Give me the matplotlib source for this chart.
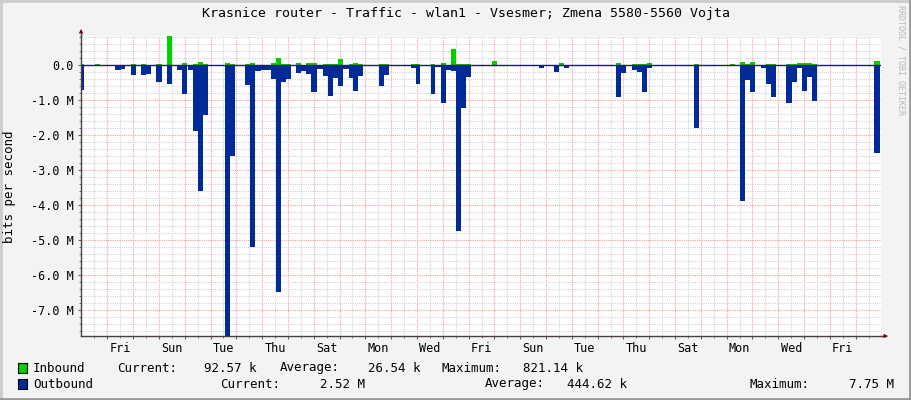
import numpy as np
import matplotlib
matplotlib.use("Agg")
import matplotlib.pyplot as plt
from matplotlib.ticker import FixedLocator, FixedFormatter, MultipleLocator, FuncFormatter
from matplotlib.patches import Rectangle
from matplotlib.lines import Line2D

plt.rcParams['font.family'] = ['DejaVu Sans Mono']

# time in days from graph start, values in Mbit/s (step: value holds until next time)
out_t = [0.000, 0.116, 1.329, 1.539, 1.717, 1.950, 2.143, 2.337, 2.531, 2.725,
         2.919, 3.140, 3.345, 3.539, 3.733, 3.926, 4.109, 4.147, 4.341, 4.535,
         4.729, 4.922, 5.570, 5.764, 5.957, 6.345, 6.539, 6.733, 6.965, 7.353,
         7.547, 7.740, 7.934, 8.128, 8.345, 8.539, 8.733, 8.926, 9.147, 9.380,
         9.574, 9.767, 9.961, 10.155, 10.388, 10.554, 10.748, 10.942, 11.562, 11.756,
         11.950, 12.558, 12.779, 12.973, 13.151, 13.554, 13.733, 13.942, 14.136, 14.341,
         14.535, 14.729, 14.922, 15.116, 17.764, 17.957, 18.345, 18.539, 18.733, 18.926,
         19.756, 19.922, 20.736, 20.942, 21.124, 21.357, 21.550, 21.744, 21.938, 22.132,
         22.353, 23.554, 23.771, 23.965, 25.554, 25.748, 25.942, 26.136, 26.357, 26.550,
         26.756, 26.950, 27.326, 27.558, 27.752, 27.946, 28.140, 28.333, 28.527, 30.748,
         30.942, 31.0]
out_v = [0.71, 0, 0.16, 0.11, 0, 0.28, 0, 0.30, 0.27, 0,
         0.48, 0, 0.54, 0, 0.14, 0.84, 0, 0.14, 1.88, 3.60,
         1.45, 0, 7.75, 2.60, 0, 0.57, 5.20, 0.19, 0.16, 0.40,
         6.50, 0.50, 0.40, 0, 0.24, 0.17, 0.27, 0.79, 0.12, 0.33,
         0.88, 0.38, 0.60, 0.13, 0.39, 0.76, 0.33, 0, 0.62, 0.28,
         0, 0.05, 0.08, 0.56, 0, 0.85, 0.07, 1.08, 0.16, 0.18,
         4.75, 1.25, 0.35, 0, 0.10, 0, 0.22, 0, 0.08, 0,
         0.05, 0, 0.93, 0.24, 0, 0.16, 0.22, 0.79, 0.08, 0.05,
         0, 0.05, 1.82, 0, 3.90, 0.43, 0.79, 0, 0.10, 0.56,
         0.93, 0, 1.10, 0.50, 0.10, 0.76, 0.36, 1.05, 0, 2.52,
         0, 0]

in_t = [0.000, 0.116, 0.531, 0.725, 1.950, 2.143, 2.337, 2.531, 2.919, 3.140,
        3.345, 3.539, 3.926, 4.109, 4.341, 4.535, 4.729, 4.922, 5.570, 5.764,
        5.957, 6.345, 6.539, 6.733, 7.353, 7.547, 7.740, 8.128, 8.345, 8.539,
        8.733, 9.147, 9.380, 9.961, 10.155, 10.388, 10.554, 10.748, 10.942, 11.562,
        11.950, 12.779, 13.151, 13.554, 13.733, 13.942, 14.136, 14.341, 14.535, 15.116,
        15.919, 16.136, 18.539, 18.733, 20.736, 20.942, 21.357, 21.938, 22.132, 23.771,
        23.965, 25.167, 25.360, 25.554, 25.748, 25.942, 26.136, 26.550, 26.950, 27.326,
        27.752, 27.946, 28.333, 28.527, 30.748, 30.942, 31.0]
in_v = [0.03, 0, 0.03, 0, 0.03, 0, 0.03, 0, 0.03, 0,
        0.821, 0, 0.05, 0, 0.03, 0.08, 0.03, 0, 0.05, 0.03,
        0, 0.03, 0.05, 0, 0.04, 0.20, 0.03, 0, 0.05, 0,
        0.05, 0, 0.03, 0.17, 0, 0.03, 0.05, 0.03, 0, 0.03,
        0, 0.03, 0, 0.03, 0, 0.05, 0, 0.46, 0.03, 0,
        0.11, 0, 0.06, 0, 0.05, 0, 0.03, 0.06, 0, 0.03,
        0, 0.03, 0, 0.08, 0.03, 0.09, 0, 0.03, 0, 0.03,
        0.05, 0.04, 0.03, 0, 0.0926, 0, 0]

first_midnight = 1.02  # first Friday 00:00, in days from graph start
day_labels = ['Fri', 'Sun', 'Tue', 'Thu', 'Sat', 'Mon', 'Wed', 'Fri',
              'Sun', 'Tue', 'Thu', 'Sat', 'Mon', 'Wed', 'Fri']

title = "Krasnice router - Traffic - wlan1 - Vsesmer; Zmena 5580-5560 Vojta"
legend_in = ["Inbound", "Current:", "92.57 k", "Average:", "26.54 k", "Maximum:", "821.14 k"]
legend_out = ["Outbound", "Current:", "2.52 M", "Average:", "444.62 k", "Maximum:", "7.75 M"]

W, H = 911, 400
fig = plt.figure(figsize=(W / 100, H / 100), dpi=100)
fig.patch.set_facecolor('#F3F3F3')

def fx(px):
    return px / W

def fy(py):
    return 1 - py / H

ax = fig.add_axes([fx(81), fy(336), 800 / W, 300 / H])
ax.set_facecolor('white')

t_out = np.array(out_t)
v_out = np.array(out_v) * 1e6
t_in = np.array(in_t)
v_in = np.array(in_v) * 1e6

ax.fill_between(t_in, v_in, step='post', color='#00CF00', linewidth=0, zorder=3)
ax.fill_between(t_out, -v_out, step='post', color='#002A97', linewidth=0, zorder=3)
ax.axhline(0, color='#1c1f70', linewidth=1.0, zorder=4)

ax.set_xlim(0, 31)
ax.set_ylim(-v_out.max(), v_in.max())

midnights = np.arange(first_midnight, 31, 1.0)
noons = np.arange(first_midnight - 0.5, 31, 1.0)
noon_labels = []
k = 0
for i, n in enumerate(noons):
    if i % 2 == 1 and k < len(day_labels):
        noon_labels.append(day_labels[k])
        k += 1
    else:
        noon_labels.append('')

ax.xaxis.set_major_locator(FixedLocator(midnights))
ax.xaxis.set_major_formatter(FixedFormatter([''] * len(midnights)))
ax.xaxis.set_minor_locator(FixedLocator(noons))
ax.xaxis.set_minor_formatter(FixedFormatter(noon_labels))

ax.yaxis.set_major_locator(MultipleLocator(1e6))
ax.yaxis.set_minor_locator(MultipleLocator(0.2e6))
ax.yaxis.set_major_formatter(FuncFormatter(
    lambda v, p: '0.0' if abs(v) < 1 else '%.1f M' % (v / 1e6)))

ax.grid(which='minor', color='#d4d4d4', linestyle=(0, (1, 1)), linewidth=0.8)
ax.grid(which='major', color='#f4a0a0', linestyle=(0, (1, 1)), linewidth=0.8)
ax.set_axisbelow(True)

for s in ['top', 'right']:
    ax.spines[s].set_visible(False)
for s in ['left', 'bottom']:
    ax.spines[s].set_color('#4a4040')
    ax.spines[s].set_linewidth(1.0)
    ax.spines[s].set_zorder(5)

ax.tick_params(axis='both', which='both', direction='out', color='#6a6060',
               labelsize=8.5, labelcolor='#000000')
ax.tick_params(axis='x', which='major', length=2, pad=2)
ax.tick_params(axis='x', which='minor', length=1.5, pad=2.5)
ax.tick_params(axis='y', which='major', length=2, pad=3)
ax.tick_params(axis='y', which='minor', length=1.5)

# axis arrows
ax.annotate('', xy=(0, 1 + 7 / 300), xytext=(0, 0.9), xycoords='axes fraction',
            arrowprops=dict(arrowstyle='-|>', color='#7F0000', lw=0, mutation_scale=8,
                            shrinkA=0, shrinkB=0), annotation_clip=False)
ax.add_artist(Line2D([0, 0], [1, 1 + 5 / 300], transform=ax.transAxes,
                     color='#4a4040', lw=1, clip_on=False))
ax.annotate('', xy=(1 + 7 / 800, 0), xytext=(0.98, 0), xycoords='axes fraction',
            arrowprops=dict(arrowstyle='-|>', color='#7F0000', lw=0, mutation_scale=8,
                            shrinkA=0, shrinkB=0), annotation_clip=False)
ax.add_artist(Line2D([1, 1 + 5 / 800], [0, 0], transform=ax.transAxes,
                     color='#4a4040', lw=1, clip_on=False))

ax.set_ylabel('bits per second', fontsize=9, labelpad=4)
ax.yaxis.set_label_coords(fx(10) - fx(81), 0.5, transform=None)
ax.yaxis.label.set_position((0, 0.5))
fig.text(fx(10), fy(187), 'bits per second', rotation=90, ha='center', va='center', fontsize=9)
ax.set_ylabel('')

fig.text(fx(466), fy(14), title, ha='center', va='center', fontsize=9.5)
fig.text(fx(901), fy(5), 'RRDTOOL / TOBI OETIKER', rotation=270, ha='center', va='top',
         fontsize=6, color='#b8b8b8')

# legend
row1, row2 = 368, 384
lefts_in = [33, 117, None, 280, None, 441, None]
rights_in = [None, None, 257, None, 421, None, 583]
lefts_out = [33, 220, None, 485, None, 750, None]
rights_out = [None, None, 365, None, 627, None, 894]
for texts, lefts, rights, row in [(legend_in, lefts_in, rights_in, row1),
                                  (legend_out, lefts_out, rights_out, row2)]:
    for s, l, r in zip(texts, lefts, rights):
        if l is not None:
            fig.text(fx(l), fy(row), s, ha='left', va='center', fontsize=9)
        else:
            fig.text(fx(r), fy(row), s, ha='right', va='center', fontsize=9)

for row, col in [(row1, '#00CF00'), (row2, '#002A97')]:
    fig.patches.append(Rectangle((fx(18), fy(row + 5)), 9 / W, 10 / H,
                                 transform=fig.transFigure, facecolor=col,
                                 edgecolor='#000000', linewidth=0.8))

# outer frame
fig.add_artist(Line2D([0, 1], [fy(1), fy(1)], transform=fig.transFigure, color='#cbcbcb', lw=2))
fig.add_artist(Line2D([fx(1), fx(1)], [0, 1], transform=fig.transFigure, color='#cbcbcb', lw=2))
fig.add_artist(Line2D([0, 1], [fy(399), fy(399)], transform=fig.transFigure, color='#999999', lw=2))
fig.add_artist(Line2D([fx(910), fx(910)], [0, 1], transform=fig.transFigure, color='#999999', lw=2))

fig.savefig('out.png', dpi=100, facecolor=fig.get_facecolor())
